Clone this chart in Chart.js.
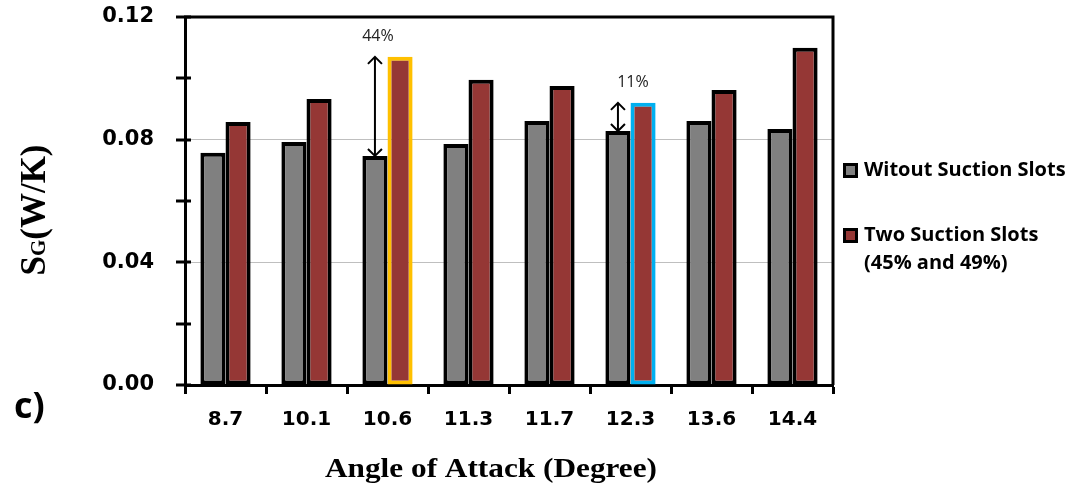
<!DOCTYPE html>
<html><head><meta charset="utf-8">
<script src="https://cdn.jsdelivr.net/npm/chart.js@4.4.1/dist/chart.umd.min.js"></script>
<style>html,body{margin:0;padding:0;background:#fff}#wrap{width:1078px;height:495px;position:relative}</style>
</head><body><div id="wrap"><canvas id="c" width="1078" height="495"></canvas></div>
<script>
const categories = ['8.7','10.1','10.6','11.3','11.7','12.3','13.6','14.4'];
const withoutSlots = [0.0757,0.0792,0.0747,0.0786,0.0861,0.0828,0.0861,0.0835];
const twoSlots = [0.0858,0.0933,0.1070,0.0995,0.0975,0.0920,0.0962,0.1100];
const seriesNames = ['Witout Suction Slots','Two Suction Slots','(45% and 49%)'];
const yTickLabels = [0,0.04,0.08,0.12];
const annotCats = ['10.6','12.3'];
const annotText = ['44%','11%'];

const GRAY='#808080', RED='#953735';
const highlight = {'10.6':'#FFC000','12.3':'#00B0F0'};

function stretchText(ctx,text,cx,cy,targetW){
  const w=ctx.measureText(text).width;
  ctx.save(); ctx.translate(cx,cy); ctx.scale(targetW/w,1);
  ctx.textAlign='center'; ctx.fillText(text,0,0); ctx.restore();
}

const decor = {
  id:'decor',
  afterDatasetsDraw(chart){
    const {ctx, chartArea:a, scales:{x,y}} = chart;
    ctx.save();
    ctx.strokeStyle='#000'; ctx.lineWidth=3;
    ctx.beginPath(); ctx.moveTo(a.left-1,a.top); ctx.lineTo(a.right,a.top); ctx.lineTo(a.right,a.bottom); ctx.stroke();
    for(let v=0; v<=0.12001; v+=0.02){
      const py=Math.round(y.getPixelForValue(v));
      ctx.beginPath(); ctx.moveTo(a.left-9,py); ctx.lineTo(a.left+6,py); ctx.stroke();
    }
    const m0=chart.getDatasetMeta(0), m1=chart.getDatasetMeta(1);
    annotCats.forEach((c,k)=>{
      const i=categories.indexOf(c);
      const g=m0.data[i], r=m1.data[i];
      const ax=g.x, y1=g.y, y2=r.y;
      ctx.strokeStyle='#000'; ctx.lineWidth=2;
      ctx.beginPath(); ctx.moveTo(ax,y1); ctx.lineTo(ax,y2); ctx.stroke();
      const h=7;
      ctx.beginPath(); ctx.moveTo(ax-h,y2+h); ctx.lineTo(ax,y2); ctx.lineTo(ax+h,y2+h); ctx.stroke();
      ctx.beginPath(); ctx.moveTo(ax-h,y1-h); ctx.lineTo(ax,y1); ctx.lineTo(ax+h,y1-h); ctx.stroke();
      ctx.fillStyle='#222'; ctx.font='16px "Open Sans"'; ctx.textAlign='center'; ctx.textBaseline='middle';
      const off = k===0?3:15;
      ctx.fillText(annotText[k], ax+off, y2-20);
    });
    const items=[[GRAY,[seriesNames[0]],170],[RED,[seriesNames[1],seriesNames[2]],235]];
    ctx.font='bold 20px "Open Sans"'; ctx.textAlign='left'; ctx.textBaseline='middle';
    items.forEach(([col,lines,ly])=>{
      ctx.fillStyle='#000'; ctx.fillRect(843,ly-7,15,15);
      ctx.fillStyle=col; ctx.fillRect(846,ly-4,9,9);
      ctx.fillStyle='#000';
      lines.forEach((t,j)=>ctx.fillText(t,864,ly+j*28));
    });
    ctx.font='bold 36px "Open Sans"'; ctx.textAlign='left'; ctx.textBaseline='middle';
    ctx.fillText('c)',14,408);
    ctx.font='bold 27px "Liberation Serif"'; ctx.textBaseline='middle';
    stretchText(ctx,'Angle of Attack (Degree)',491,470,332);
    ctx.translate(33,210); ctx.rotate(-Math.PI/2);
    const f1='bold 35px "Liberation Serif"', f2='bold 21px "Liberation Serif"';
    ctx.font=f1; const wS=ctx.measureText('S').width, wR=ctx.measureText('(W/K)').width;
    ctx.font=f2; const wG=ctx.measureText('G').width;
    let sx=-(wS+wG+wR)/2;
    ctx.textAlign='left'; ctx.textBaseline='alphabetic';
    ctx.font=f1; ctx.fillText('S',sx,12); sx+=wS;
    ctx.font=f2; ctx.fillText('G',sx,12); sx+=wG;
    ctx.font=f1; ctx.fillText('(W/K)',sx,12);
    ctx.restore();
  }
};

new Chart(document.getElementById('c'),{
  type:'bar',
  data:{labels:categories,datasets:[
    {label:seriesNames[0],data:withoutSlots,backgroundColor:GRAY,borderColor:'#000',borderWidth:4,borderSkipped:false,categoryPercentage:0.62,barPercentage:1.0},
    {label:seriesNames[1],data:twoSlots,backgroundColor:RED,borderColor:categories.map(c=>highlight[c]||'#000'),borderWidth:4,borderSkipped:false,categoryPercentage:0.62,barPercentage:1.0}
  ]},
  options:{
    responsive:false,animation:false,devicePixelRatio:1,
    layout:{padding:{left:0,top:17,right:245,bottom:0}},
    plugins:{legend:{display:false},tooltip:{enabled:false}},
    scales:{
      x:{offset:true,
        grid:{offset:true,drawOnChartArea:false,drawTicks:true,tickLength:9,tickColor:'#000',tickWidth:3},
        border:{color:'#000',width:3},
        ticks:{color:'#000',font:{family:'DejaVu Sans',weight:'bold',size:20},padding:14,maxRotation:0},
        afterFit(s){s.height=110;s.paddingLeft=0;s.paddingRight=0;}
      },
      y:{min:0,max:0.12,
        grid:{drawTicks:false,color:(c)=>{const v=c.tick&&c.tick.value;return (Math.abs(v-0.04)<1e-6||Math.abs(v-0.08)<1e-6)?'#bfbfbf':'rgba(0,0,0,0)';},lineWidth:1},
        border:{color:'#000',width:3},
        ticks:{stepSize:0.02,color:'#000',font:{family:'DejaVu Sans',weight:'bold',size:21},padding:31,
          callback:(v)=>{const m=yTickLabels.find(t=>Math.abs(t-v)<1e-6);return m===undefined?'':m.toFixed(2);}},
        afterFit(s){s.width=185;s.paddingTop=0;s.paddingBottom=0;}
      }
    }
  },
  plugins:[decor]
});
</script></body></html>
